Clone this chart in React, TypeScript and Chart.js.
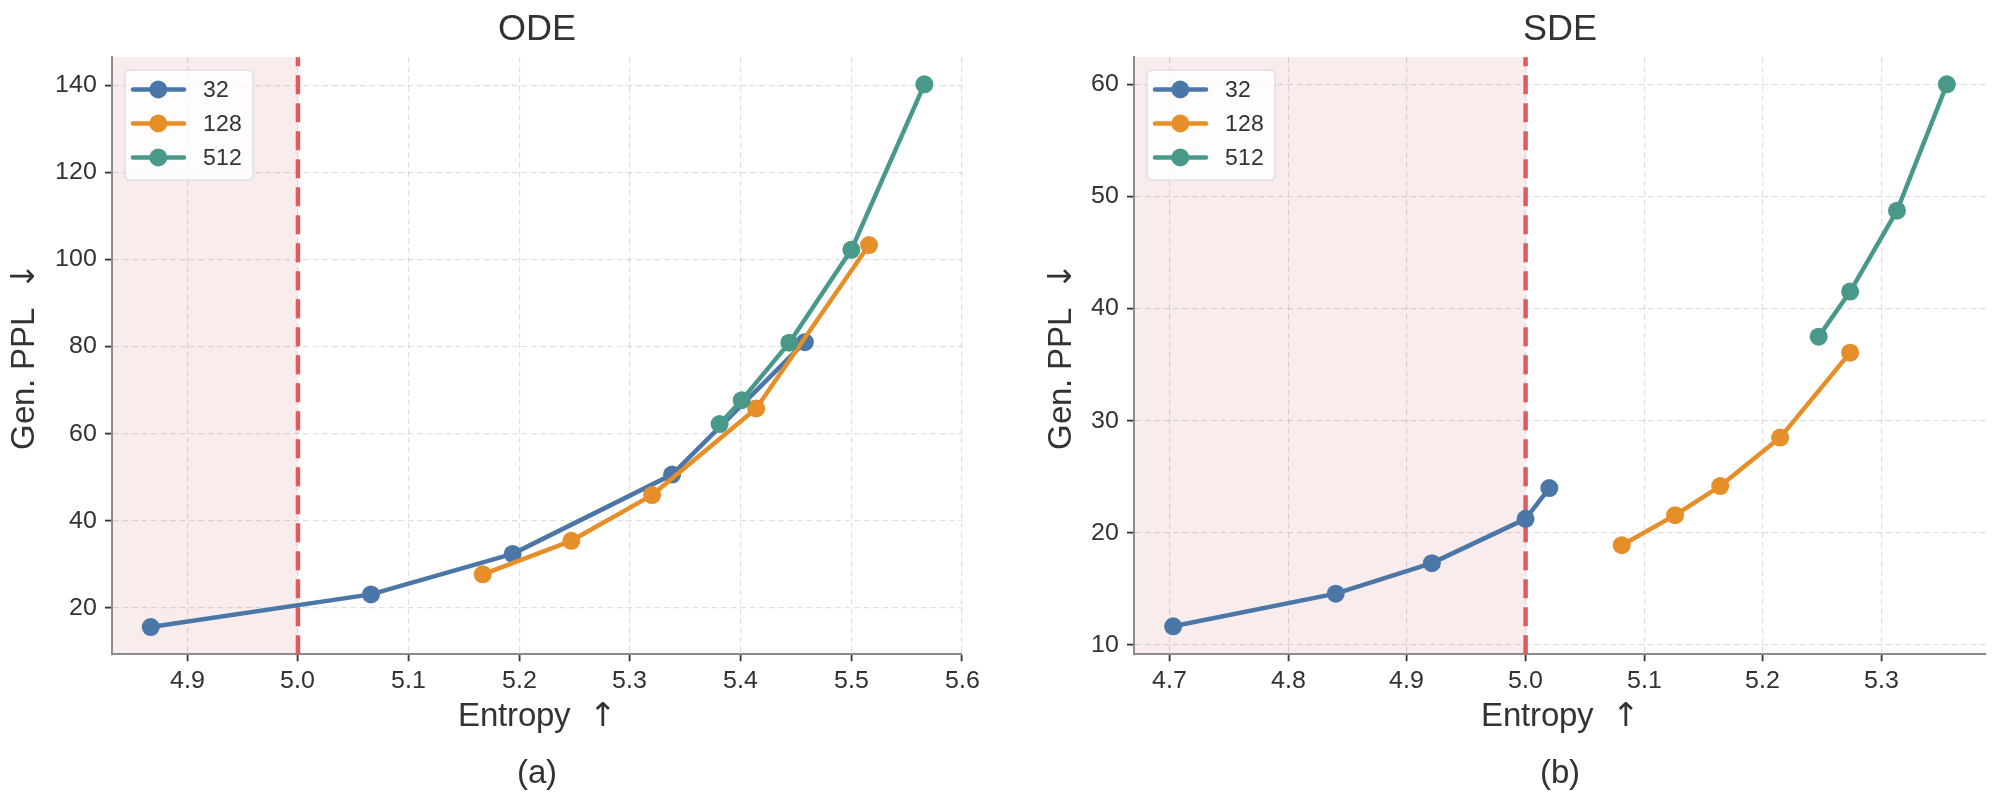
import React, { useEffect, useRef } from "react";
import { Chart, registerables } from "chart.js";

Chart.register(...registerables);

// ---------- data ----------
const SERIES_LABELS = ["32", "128", "512"];
const SERIES_COLORS = ["#4a77a8", "#e68e28", "#48998a"];

const ODE_ENTROPY_32 = [4.867, 5.066, 5.194, 5.338, 5.458];
const ODE_PPL_32 = [15.6, 23.1, 32.4, 50.6, 81.0];
const ODE_ENTROPY_128 = [5.167, 5.247, 5.32, 5.414, 5.516];
const ODE_PPL_128 = [27.7, 35.4, 45.9, 65.8, 103.3];
const ODE_ENTROPY_512 = [5.381, 5.401, 5.444, 5.5, 5.566];
const ODE_PPL_512 = [62.2, 67.7, 80.9, 102.2, 140.2];

const SDE_ENTROPY_32 = [4.703, 4.84, 4.921, 5.0, 5.02];
const SDE_PPL_32 = [11.67, 14.58, 17.3, 21.25, 24.0];
const SDE_ENTROPY_128 = [5.081, 5.126, 5.164, 5.2145, 5.2735];
const SDE_PPL_128 = [18.9, 21.58, 24.17, 28.5, 36.07];
const SDE_ENTROPY_512 = [5.247, 5.2735, 5.313, 5.355];
const SDE_PPL_512 = [37.5, 41.52, 48.73, 60.0];

const ODE_X_TICKS = [4.9, 5.0, 5.1, 5.2, 5.3, 5.4, 5.5, 5.6];
const ODE_Y_TICKS = [20, 40, 60, 80, 100, 120, 140];
const SDE_X_TICKS = [4.7, 4.8, 4.9, 5.0, 5.1, 5.2, 5.3];
const SDE_Y_TICKS = [10, 20, 30, 40, 50, 60];

const ODE_X_RANGE = [4.832, 5.6];
const ODE_Y_RANGE = [9.37, 146.43];
const SDE_X_RANGE = [4.67, 5.388];
const SDE_Y_RANGE = [9.18, 62.42];

const ENTROPY_THRESHOLD = 5.0;

const X_TITLE = "Entropy  \u2191";
const Y_TITLE = "Gen. PPL  \u2193";

// ---------- styling ----------
// Latin text in Liberation Sans, arrows from DejaVu Sans (as in the original figure)
if (typeof document !== "undefined" && !document.getElementById("plotfont-style")) {
  const st = document.createElement("style");
  st.id = "plotfont-style";
  st.textContent = `
@font-face { font-family: "PlotFont"; src: local("Liberation Sans"), local("LiberationSans"); }
@font-face { font-family: "PlotFont"; src: local("DejaVu Sans"), local("DejaVuSans"); unicode-range: U+2190-21FF; }
`;
  document.head.appendChild(st);
}

const FONT = '"PlotFont", "Liberation Sans", Arial, Helvetica, sans-serif';
const TEXT_COLOR = "#333333";

Chart.defaults.font.family = FONT;
Chart.defaults.color = TEXT_COLOR;

type Panel = {
  title: string;
  subtitle: string;
  xs: number[][];
  ys: number[][];
  xRange: number[];
  yRange: number[];
  xTicks: number[];
  yTicks: number[];
  padLeft: number;
  padRight: number;
  yAxisWidth: number;
};

const PANELS: Panel[] = [
  {
    title: "ODE",
    subtitle: "(a)",
    xs: [ODE_ENTROPY_32, ODE_ENTROPY_128, ODE_ENTROPY_512],
    ys: [ODE_PPL_32, ODE_PPL_128, ODE_PPL_512],
    xRange: ODE_X_RANGE,
    yRange: ODE_Y_RANGE,
    xTicks: ODE_X_TICKS,
    yTicks: ODE_Y_TICKS,
    padLeft: 0,
    padRight: 38,
    yAxisWidth: 112,
  },
  {
    title: "SDE",
    subtitle: "(b)",
    xs: [SDE_ENTROPY_32, SDE_ENTROPY_128, SDE_ENTROPY_512],
    ys: [SDE_PPL_32, SDE_PPL_128, SDE_PPL_512],
    xRange: SDE_X_RANGE,
    yRange: SDE_Y_RANGE,
    xTicks: SDE_X_TICKS,
    yTicks: SDE_Y_TICKS,
    padLeft: 37.2,
    padRight: 14,
    yAxisWidth: 96.8,
  },
];

const thresholdPlugin = {
  id: "threshold",
  beforeDraw(chart: any) {
    const { ctx, chartArea: a, scales } = chart;
    const x = scales.x.getPixelForValue(ENTROPY_THRESHOLD);
    ctx.save();
    ctx.fillStyle = "#f9ecec";
    ctx.fillRect(a.left, a.top, x - a.left, a.bottom - a.top);
    ctx.restore();
  },
  beforeDatasetsDraw(chart: any) {
    const { ctx, chartArea: a, scales } = chart;
    const x = scales.x.getPixelForValue(ENTROPY_THRESHOLD);
    ctx.save();
    ctx.strokeStyle = "#e05a5e";
    ctx.lineWidth = 4.5;
    ctx.setLineDash([19, 9]);
    ctx.beginPath();
    ctx.moveTo(x, a.bottom);
    ctx.lineTo(x, a.top);
    ctx.stroke();
    ctx.restore();
  },
};

const legendPlugin = {
  id: "mplLegend",
  afterDraw(chart: any) {
    const { ctx, chartArea: a } = chart;
    const bx = a.left + 13;
    const by = a.top + 13;
    const bw = 128;
    const bh = 110;
    const r = 5;
    ctx.save();
    ctx.beginPath();
    ctx.moveTo(bx + r, by);
    ctx.lineTo(bx + bw - r, by);
    ctx.arcTo(bx + bw, by, bx + bw, by + r, r);
    ctx.lineTo(bx + bw, by + bh - r);
    ctx.arcTo(bx + bw, by + bh, bx + bw - r, by + bh, r);
    ctx.lineTo(bx + r, by + bh);
    ctx.arcTo(bx, by + bh, bx, by + bh - r, r);
    ctx.lineTo(bx, by + r);
    ctx.arcTo(bx, by, bx + r, by, r);
    ctx.closePath();
    ctx.fillStyle = "rgba(255,255,255,0.82)";
    ctx.fill();
    ctx.strokeStyle = "#dcdcdc";
    ctx.lineWidth = 1.3;
    ctx.stroke();

    chart.data.datasets.forEach((ds: any, i: number) => {
      const cy = by + 19.3 + i * 34;
      ctx.strokeStyle = ds.borderColor;
      ctx.lineWidth = 4.5;
      ctx.lineCap = "round";
      ctx.beginPath();
      ctx.moveTo(bx + 8, cy);
      ctx.lineTo(bx + 59, cy);
      ctx.stroke();
      ctx.fillStyle = ds.borderColor;
      ctx.beginPath();
      ctx.arc(bx + 33.3, cy, 9, 0, Math.PI * 2);
      ctx.fill();
      ctx.fillStyle = TEXT_COLOR;
      ctx.font = `22.5px ${FONT}`;
      ctx.textBaseline = "middle";
      ctx.textAlign = "left";
      ctx.fillText(ds.label, bx + 78.3, cy + 1);
    });
    ctx.restore();
  },
};

function makeConfig(p: Panel): any {
  const datasets = SERIES_LABELS.map((label, i) => ({
    label,
    data: p.xs[i].map((x, j) => ({ x, y: p.ys[i][j] })),
    borderColor: SERIES_COLORS[i],
    backgroundColor: SERIES_COLORS[i],
    pointBackgroundColor: SERIES_COLORS[i],
    pointBorderColor: SERIES_COLORS[i],
    pointBorderWidth: 0,
    pointRadius: 9,
    pointHoverRadius: 9,
    borderWidth: 4.5,
    borderJoinStyle: "round",
    borderCapStyle: "round",
    showLine: true,
    tension: 0,
    order: SERIES_LABELS.length - i,
  }));

  const gridCommon = {
    color: "rgba(0,0,0,0.12)",
    lineWidth: 1.2,
    tickLength: 7,
    tickColor: "#333333",
    tickWidth: 1.8,
    tickBorderDash: [],
    drawTicks: true,
  };
  const borderCommon = {
    display: true,
    color: "#8c8c8c",
    width: 2,
    dash: [6, 3.5],
  };

  return {
    type: "scatter",
    data: { datasets },
    plugins: [thresholdPlugin, legendPlugin],
    options: {
      responsive: false,
      animation: false,
      devicePixelRatio: 1,
      layout: {
        padding: { left: p.padLeft, right: p.padRight, top: 0, bottom: 0 },
      },
      plugins: {
        legend: { display: false },
        tooltip: { enabled: false },
        title: {
          display: true,
          text: p.title,
          fullSize: false,
          color: TEXT_COLOR,
          font: { size: 36, weight: "normal" },
          padding: { top: 8, bottom: 6 },
        },
        subtitle: {
          display: true,
          text: p.subtitle,
          position: "bottom",
          fullSize: false,
          color: TEXT_COLOR,
          font: { size: 33, weight: "normal" },
          padding: { top: 0, bottom: 5 },
        },
      },
      scales: {
        x: {
          type: "linear",
          min: p.xRange[0],
          max: p.xRange[1],
          afterBuildTicks: (s: any) => {
            s.ticks = p.xTicks.map((v) => ({ value: v }));
          },
          afterFit: (s: any) => {
            s.height = 100.2;
          },
          ticks: {
            autoSkip: false,
            maxRotation: 0,
            padding: 5,
            color: TEXT_COLOR,
            font: { size: 25 },
            callback: (v: any) => Number(v).toFixed(1),
          },
          grid: gridCommon,
          border: borderCommon,
          title: {
            display: true,
            text: X_TITLE,
            color: TEXT_COLOR,
            font: { size: 33 },
            padding: { top: 0, bottom: 17.8 },
          },
        },
        y: {
          type: "linear",
          min: p.yRange[0],
          max: p.yRange[1],
          afterBuildTicks: (s: any) => {
            s.ticks = p.yTicks.map((v) => ({ value: v }));
          },
          afterFit: (s: any) => {
            s.width = p.yAxisWidth;
          },
          ticks: {
            autoSkip: false,
            padding: 8,
            color: TEXT_COLOR,
            font: { size: 25 },
            callback: (v: any) => String(v),
          },
          grid: gridCommon,
          border: borderCommon,
          title: {
            display: true,
            text: Y_TITLE,
            color: TEXT_COLOR,
            font: { size: 33 },
            padding: { top: 5, bottom: 0 },
          },
        },
      },
    },
  };
}

function PanelChart({ panel, left }: { panel: Panel; left: number }) {
  const ref = useRef<HTMLCanvasElement>(null);
  useEffect(() => {
    let chart: Chart | null = null;
    let cancelled = false;
    const build = () => {
      if (cancelled || !ref.current) return;
      chart = new Chart(ref.current, makeConfig(panel));
    };
    const fonts: any = (document as any).fonts;
    if (fonts && fonts.load) {
      Promise.all([
        fonts.load(`33px "PlotFont"`, "Entropy \u2191\u2193"),
        fonts.load(`25px "PlotFont"`, "0123456789."),
      ])
        .catch(() => null)
        .then(build);
    } else {
      build();
    }
    return () => {
      cancelled = true;
      if (chart) chart.destroy();
    };
  }, [panel]);
  return (
    <canvas
      ref={ref}
      width={1000}
      height={799}
      style={{
        position: "absolute",
        left,
        top: 0,
        width: 1000,
        height: 799,
        display: "block",
      }}
    />
  );
}

export default function App() {
  return (
    <div
      style={{
        position: "absolute",
        left: 0,
        top: 0,
        width: 2000,
        height: 799,
        background: "#ffffff",
        overflow: "hidden",
      }}
    >
      <PanelChart panel={PANELS[0]} left={0} />
      <PanelChart panel={PANELS[1]} left={1000} />
    </div>
  );
}
